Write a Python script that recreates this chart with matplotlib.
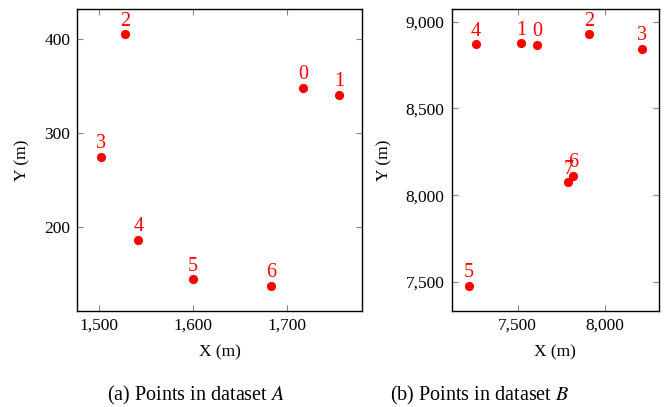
import matplotlib.pyplot as plt
from matplotlib.ticker import FuncFormatter, MultipleLocator

plt.rcParams['font.family'] = ['Liberation Serif', 'DejaVu Serif']
plt.rcParams['mathtext.fontset'] = 'stix'

# dataset A
a_labels = ['0', '1', '2', '3', '4', '5', '6']
a_x = [1717, 1755, 1528, 1502, 1542, 1600, 1683]
a_y = [348, 341, 405, 275, 187, 145, 138]

# dataset B
b_labels = ['0', '1', '2', '3', '4', '5', '6', '7']
b_x = [7612, 7519, 7907, 8209, 7262, 7222, 7816, 7789]
b_y = [8866, 8875, 8927, 8845, 8871, 7479, 8113, 8075]

fig = plt.figure(figsize=(6.67, 4.07), dpi=100)
ax1 = fig.add_axes([0.1159, 0.2366, 0.4273, 0.7405])
ax2 = fig.add_axes([0.6772, 0.2366, 0.3103, 0.7405])

comma = FuncFormatter(lambda v, p: f"{int(v):,}")


def draw(ax, xs, ys, labels):
    ax.scatter(xs, ys, s=44, color='red', zorder=3, linewidths=0)
    for x, y, t in zip(xs, ys, labels):
        ax.annotate(t, (x, y), xytext=(0, 2.5), textcoords='offset points',
                    ha='center', va='bottom', color='red', fontsize=14.5)
    ax.xaxis.set_major_formatter(comma)
    ax.yaxis.set_major_formatter(comma)
    ax.tick_params(direction='in', top=True, right=True, length=4,
                   color='#888888', labelsize=12.5, pad=5)
    for s in ax.spines.values():
        s.set_linewidth(1.0)
    ax.set_xlabel('X (m)', fontsize=12.5, labelpad=8)
    ax.set_ylabel('Y (m)', fontsize=12.5, labelpad=10)


draw(ax1, a_x, a_y, a_labels)
ax1.set_xlim(1477, 1780)
ax1.set_ylim(111.5, 431.5)
ax1.xaxis.set_major_locator(MultipleLocator(100))
ax1.yaxis.set_major_locator(MultipleLocator(100))

draw(ax2, b_x, b_y, b_labels)
ax2.set_xlim(7123, 8305)
ax2.set_ylim(7335, 9071)
ax2.xaxis.set_major_locator(MultipleLocator(500))
ax2.yaxis.set_major_locator(MultipleLocator(500))

fig.text(196 / 667, 1 - 395 / 407, '(a) Points in dataset $A$', ha='center',
         va='center', fontsize=14.5)
fig.text(480 / 667, 1 - 395 / 407, '(b) Points in dataset $B$', ha='center',
         va='center', fontsize=14.5)

fig.savefig('out.png', dpi=100)
